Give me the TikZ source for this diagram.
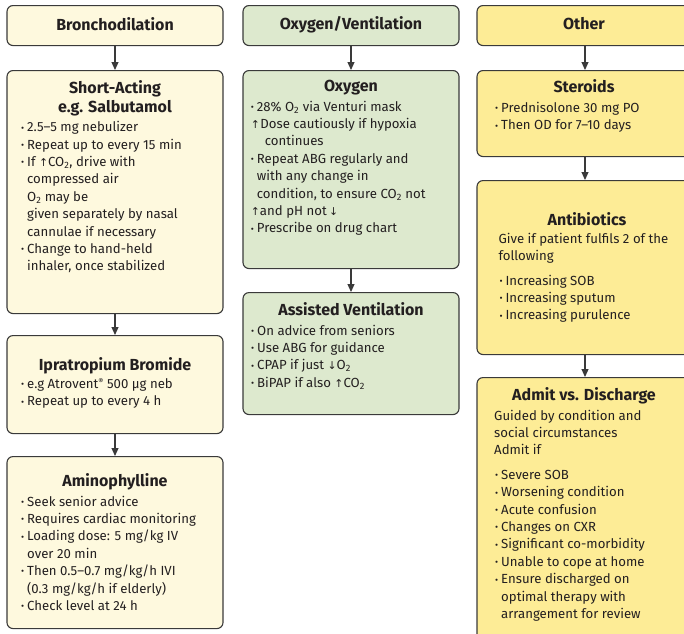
\documentclass[tikz,border=0pt]{standalone}
\usepackage{graphicx}
\usepackage{fontspec}
\setmainfont{Fira Sans}
\newfontfamily\symfam{DejaVu Sans}
\usetikzlibrary{arrows.meta}

\definecolor{bronchfill}{HTML}{FEF9DE}
\definecolor{oxyfill}{HTML}{DDE9CE}
\definecolor{otherfill}{HTML}{FDEC96}
\definecolor{edgecol}{HTML}{3A3A3A}
\definecolor{inkcol}{HTML}{231F20}

% list helpers
\newcommand\bul{\makebox[6pt][l]{\raisebox{0.1ex}{\scalebox{0.72}{•}}}}
\newcommand\ind{\hspace*{6pt}}
\newcommand\uparw{{\symfam\scalebox{0.82}{↑}}}
\newcommand\dnarw{{\symfam\scalebox{0.82}{↓}}}
\newcommand\two{\textsubscript{2}}
\newcommand\regmark{\raisebox{0.55ex}{\scalebox{0.6}{®}}}
\newcommand\bodyfont{\fontsize{13.2}{17.4}\selectfont}
\newcommand\titlefont{\fontsize{16}{18}\selectfont\bfseries}
\newcommand\rows[1]{\begin{tabular}[t]{@{}l@{}}#1\end{tabular}}

\begin{document}
\begin{tikzpicture}[x=1pt,y=-1pt,
  box/.style={draw=edgecol, line width=1.1pt, rounded corners=6pt,
    minimum width=216pt, inner sep=0pt, anchor=north},
  bronch/.style={box, fill=bronchfill},
  oxy/.style={box, fill=oxyfill},
  other/.style={box, fill=otherfill},
  title/.style={font=\titlefont, text=inkcol, inner sep=0pt, anchor=base},
  body/.style={font=\bodyfont, text=inkcol, inner sep=0pt, anchor=base west},
  link/.style={draw=edgecol, line width=1.1pt,
    -{Triangle[length=8pt,width=7pt]}}]
\useasboundingbox (0,0) rectangle (684,633);
\clip (0,0) rectangle (684,633);

% ---------- Bronchodilation column ----------
\node[bronch, minimum height=40pt]  (bh) at (115,5)   {};
\node[bronch, minimum height=243pt] (sa) at (115,70)  {};
\node[bronch, minimum height=98pt]  (ip) at (115,335) {};
\node[bronch, minimum height=172pt] (am) at (115,456) {};

\node[title] (bht) at (115,30)    {Bronchodilation};
\node[title] (sat1) at (115,93.3) {Short-Acting};
\node[title] (sat2) at (115,112.7) {e.g. Salbutamol};
\node[body] (sab) at (21,131.7) {\rows{%
  \bul 2.5–5 mg nebulizer\\
  \bul Repeat up to every 15 min\\
  \bul If \uparw CO\two, drive with\\
  \ind compressed air\\
  \ind O\two{} may be\\
  \ind given separately by nasal\\
  \ind cannulae if necessary\\
  \bul Change to hand-held\\
  \ind inhaler, once stabilized}};

\node[title] (ipt) at (115,370) {Ipratropium Bromide};
\node[body] (ipb) at (21,388.3) {\rows{%
  \bul e.g Atrovent\regmark{} 500 µg neb\\
  \bul Repeat up to every 4 h}};

\node[title] (amt) at (115,486) {Aminophylline};
\node[body] (amb) at (21,506) {\rows{%
  \bul Seek senior advice\\
  \bul Requires cardiac monitoring\\
  \bul Loading dose: 5 mg/kg IV\\
  \ind over 20 min\\
  \bul Then 0.5–0.7 mg/kg/h IVI\\
  \ind (0.3 mg/kg/h if elderly)\\
  \bul Check level at 24 h}};

\draw[link] (bh.south) -- (sa.north);
\draw[link] (sa.south) -- (ip.north);
\draw[link] (ip.south) -- (am.north);

% ---------- Oxygen/Ventilation column ----------
\node[oxy, minimum height=40pt]  (oh) at (351,5)   {};
\node[oxy, minimum height=198pt] (ox) at (351,70)  {};
\node[oxy, minimum height=122pt] (av) at (351,292) {};

\node[title] (oht) at (351,29.3) {Oxygen/Ventilation};
\node[title] (oxt) at (351,91.7) {Oxygen};
\node[body] (oxb) at (250.7,111) {\rows{%
  \bul 28\% O\two{} via Venturi mask\\
  \makebox[9.5pt][l]{\uparw}Dose cautiously if hypoxia\\
  \hspace*{14pt}continues\\
  \bul Repeat ABG regularly and\\
  \ind with any change in\\
  \ind condition, to ensure CO\two{} not\\
  \uparw and pH not\,\dnarw\\
  \bul Prescribe on drug chart}};

\node[title] (avt) at (351,315) {Assisted Ventilation};
\node[body] (avb) at (251,335) {\rows{%
  \bul On advice from seniors\\
  \bul Use ABG for guidance\\
  \bul CPAP if just \dnarw O\two\\
  \bul BiPAP if also \uparw CO\two}};

\draw[link] (oh.south) -- (ox.north);
\draw[link] (ox.south) -- (av.north);

% ---------- Other column ----------
\node[other, minimum height=40pt]  (ot) at (585,5)   {};
\node[other, minimum height=86pt]  (st) at (585,70)  {};
\node[other, minimum height=174pt] (ab) at (585,180) {};
\node[other, minimum height=290pt] (ad) at (585,377) {};

\node[title] (ott) at (584,29.3) {Other};
\node[title] (stt) at (584,92.7) {Steroids};
\node[body] (stb) at (495,112.3) {\rows{%
  \bul Prednisolone 30 mg PO\\
  \bul Then OD for 7–10 days}};

\node[title] (abt) at (587,225) {Antibiotics};
\node[body] (abi) at (498.3,243.3) {\rows{%
  Give if patient fulfils 2 of the\\
  following}};
\node[body] (abb) at (499.3,285) {\rows{%
  \bul Increasing SOB\\
  \bul Increasing sputum\\
  \bul Increasing purulence}};

\node[title] (adt) at (584,400.7) {Admit vs. Discharge};
\node[body] (adi) at (494,420) {\rows{%
  Guided by condition and\\
  social circumstances\\
  Admit if}};
\node[body] (adb) at (495,479.3) {\rows{%
  \bul Severe SOB\\
  \bul Worsening condition\\
  \bul Acute confusion\\
  \bul Changes on CXR\\
  \bul Significant co-morbidity\\
  \bul Unable to cope at home\\
  \bul Ensure discharged on\\
  \ind optimal therapy with\\
  \ind arrangement for review}};

\draw[link] (ot.south) -- (st.north);
\draw[link] (st.south) -- (ab.north);
\draw[link] (ab.south) -- (ad.north);
\end{tikzpicture}
\end{document}
